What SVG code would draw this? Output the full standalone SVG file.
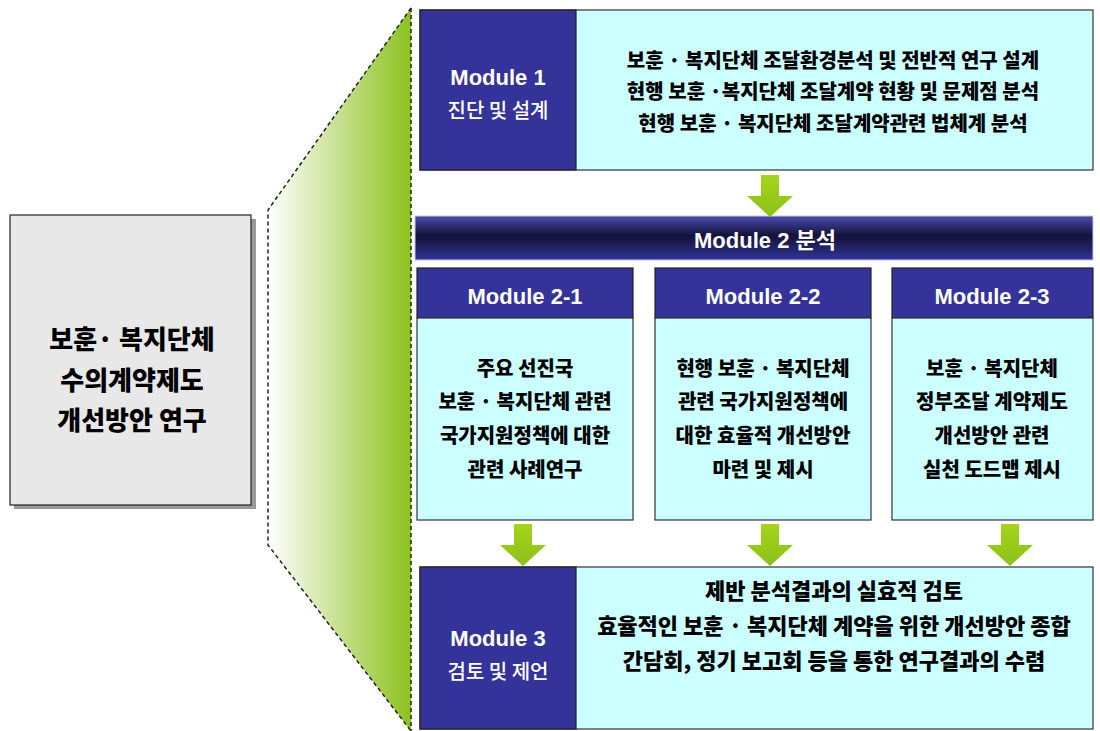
<svg xmlns="http://www.w3.org/2000/svg" width="1100" height="731" viewBox="0 0 1100 731">
<defs>
<linearGradient id="gFan" x1="0" y1="0" x2="1" y2="0">
<stop offset="0" stop-color="#ffffff"/>
<stop offset="1" stop-color="#8cc21e"/>
</linearGradient>
<linearGradient id="gBar" x1="0" y1="0" x2="0" y2="1">
<stop offset="0" stop-color="#4a4ab0"/>
<stop offset="0.45" stop-color="#121238"/>
<stop offset="1" stop-color="#34349a"/>
</linearGradient>
<linearGradient id="gArrow" x1="0" y1="0" x2="0" y2="1">
<stop offset="0" stop-color="#a6d41a"/>
<stop offset="1" stop-color="#8cc01a"/>
</linearGradient>
<path id="arrow" d="M-9,0 H9 V21 H23 L0,42 L-23,21 H-9 Z"/>
<style>
.dark{fill:#333399;stroke:#222;stroke-width:1.2}
.light{fill:#ccffff;stroke:#333;stroke-width:1.2}
.mod{font-family:"Liberation Sans","Noto Sans CJK KR",sans-serif;font-weight:bold;fill:#fff;text-anchor:middle}
.sub{font-family:"Noto Sans CJK KR",sans-serif;font-weight:500;fill:#fff;text-anchor:middle;font-size:20px}
.kr{font-family:"Noto Sans CJK KR",sans-serif;font-weight:900;fill:#000;text-anchor:middle}
.dash{fill:none;stroke:#222;stroke-width:1.5;stroke-dasharray:4 3}
.arr{fill:url(#gArrow)}
</style>
</defs>

<g id="fan">
<path d="M411,8 L268,210 V545 L411,731 Z" fill="url(#gFan)"/>
<path class="dash" d="M411,8 L268,210 V545 L411,731"/>
<line class="dash" x1="411" y1="8" x2="411" y2="731"/>
</g>

<g id="main">
<rect x="14" y="219" width="242" height="290" fill="#9a9a9a"/>
<rect x="10" y="215" width="241" height="290" fill="#e8e8e8" stroke="#222" stroke-width="1.2"/>
<text class="kr" font-size="26" x="132" y="349">보훈· 복지단체</text>
<text class="kr" font-size="26" x="132" y="390">수의계약제도</text>
<text class="kr" font-size="26" x="132" y="430">개선방안 연구</text>
</g>

<g id="module1">
<rect class="light" x="420" y="10" width="673" height="160"/>
<rect class="dark" x="420" y="10" width="156" height="160"/>
<text class="mod" font-size="22" x="498" y="85">Module 1</text>
<text class="sub" x="498" y="118">진단 및 설계</text>
<text class="kr" font-size="20" x="833" y="68">보훈 · 복지단체 조달환경분석 및 전반적 연구 설계</text>
<text class="kr" font-size="20" x="833" y="99">현행 보훈 ·복지단체 조달계약 현황 및 문제점 분석</text>
<text class="kr" font-size="20" x="833" y="131">현행 보훈 · 복지단체 조달계약관련 법체계 분석</text>
</g>

<g id="module2">
<rect x="415" y="216" width="678" height="44" fill="url(#gBar)" stroke="#c8c8e0" stroke-width="1"/>
<text class="mod" font-size="22" x="765" y="248">Module 2 분석</text>
</g>

<g id="module2-1">
<rect class="dark" x="417" y="268" width="216" height="50"/>
<rect class="light" x="417" y="318" width="216" height="202"/>
<text class="mod" font-size="22" x="525" y="304">Module 2-1</text>
<text class="kr" font-size="20" x="525" y="376">주요 선진국</text>
<text class="kr" font-size="20" x="525" y="409">보훈 · 복지단체 관련</text>
<text class="kr" font-size="20" x="525" y="443">국가지원정책에 대한</text>
<text class="kr" font-size="20" x="525" y="477">관련 사례연구</text>
</g>

<g id="module2-2">
<rect class="dark" x="655" y="268" width="216" height="50"/>
<rect class="light" x="655" y="318" width="216" height="202"/>
<text class="mod" font-size="22" x="763" y="304">Module 2-2</text>
<text class="kr" font-size="20" x="763" y="376">현행 보훈 · 복지단체</text>
<text class="kr" font-size="20" x="763" y="409">관련 국가지원정책에</text>
<text class="kr" font-size="20" x="763" y="443">대한 효율적 개선방안</text>
<text class="kr" font-size="20" x="763" y="477">마련 및 제시</text>
</g>

<g id="module2-3">
<rect class="dark" x="892" y="268" width="201" height="50"/>
<rect class="light" x="892" y="318" width="201" height="202"/>
<text class="mod" font-size="22" x="992" y="304">Module 2-3</text>
<text class="kr" font-size="20" x="992" y="376">보훈 · 복지단체</text>
<text class="kr" font-size="20" x="992" y="409">정부조달 계약제도</text>
<text class="kr" font-size="20" x="992" y="443">개선방안 관련</text>
<text class="kr" font-size="20" x="992" y="477">실천 도드맵 제시</text>
</g>

<g id="module3">
<rect class="light" x="420" y="567" width="673" height="162"/>
<rect class="dark" x="420" y="567" width="156" height="162"/>
<text class="mod" font-size="22" x="498" y="646">Module 3</text>
<text class="sub" x="498" y="679">검토 및 제언</text>
<text class="kr" font-size="22" x="834" y="599">제반 분석결과의 실효적 검토</text>
<text class="kr" font-size="22" x="834" y="634">효율적인 보훈 · 복지단체 계약을 위한 개선방안 종합</text>
<text class="kr" font-size="22" x="834" y="669">간담회, 정기 보고회 등을 통한 연구결과의 수렴</text>
</g>

<g id="connectors">
<use href="#arrow" class="arr" x="770" y="175"/>
<use href="#arrow" class="arr" x="523" y="524"/>
<use href="#arrow" class="arr" x="770" y="524"/>
<use href="#arrow" class="arr" x="1010" y="524"/>
</g>
</svg>
